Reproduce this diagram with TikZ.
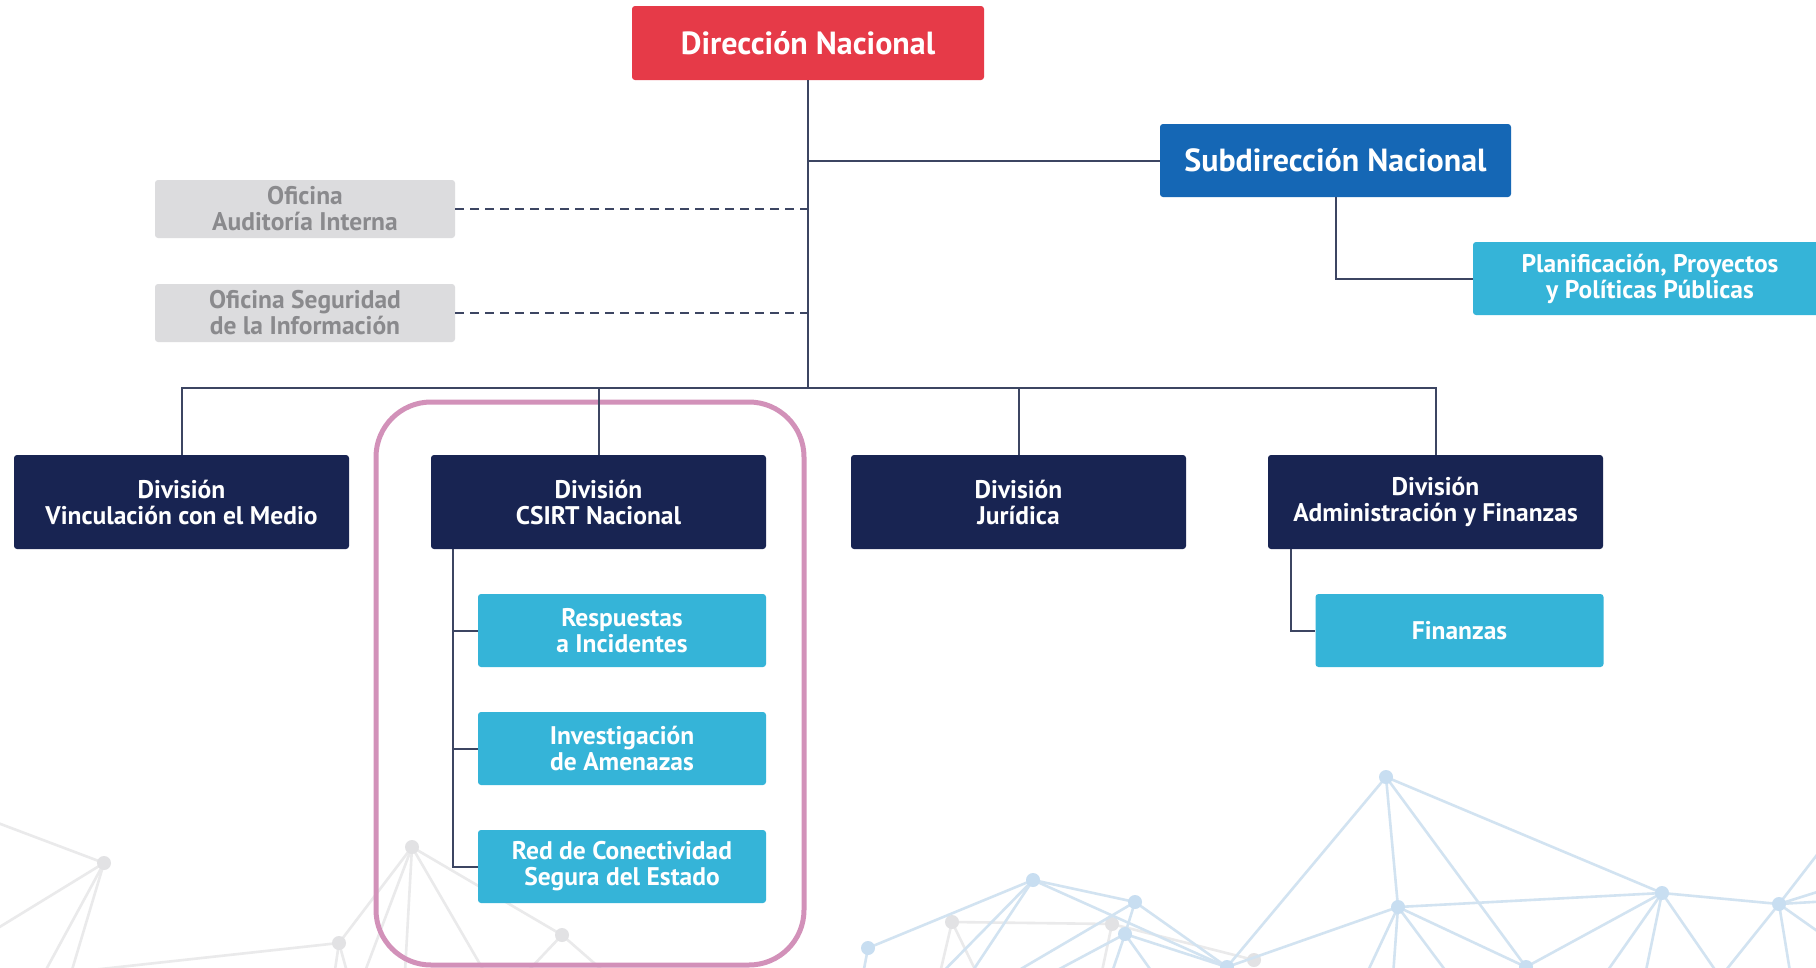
\documentclass[tikz,border=0pt]{standalone}
\usepackage{fontspec}
\setmainfont{PT Sans}
\definecolor{dirred}{RGB}{230,58,72}
\definecolor{subblue}{RGB}{21,103,181}
\definecolor{divnavy}{RGB}{24,36,82}
\definecolor{unitcyan}{RGB}{53,180,216}
\definecolor{officegray}{RGB}{220,220,222}
\definecolor{officetext}{RGB}{138,138,141}
\definecolor{linkcol}{RGB}{60,69,98}
\definecolor{framepink}{RGB}{210,145,185}
\definecolor{netgray}{RGB}{234,234,235}
\definecolor{netgraydot}{RGB}{226,226,228}
\definecolor{netblue}{RGB}{210,227,241}
\definecolor{netbluedot}{RGB}{200,222,241}
\begin{document}
\begin{tikzpicture}[x=1pt,y=-1pt,
  box/.style={rounded corners=3pt, align=center, inner sep=0pt, text=white,
    font=\bfseries\fontsize{25.5}{26}\selectfont},
  topbox/.style={box, minimum width=352pt, minimum height=74pt,
    font=\bfseries\fontsize{32}{34}\selectfont},
  divbox/.style={box, fill=divnavy, minimum width=335pt, minimum height=94pt},
  unitbox/.style={box, fill=unitcyan, minimum width=288pt, minimum height=73pt},
  officebox/.style={box, fill=officegray, text=officetext, minimum width=300pt, minimum height=58pt},
  link/.style={draw=linkcol, line width=2pt},
  dashlink/.style={draw=linkcol, line width=2pt, dash pattern=on 9pt off 6pt},
  netg/.style={draw=netgray, line width=2.6pt},
  netb/.style={draw=netblue, line width=2.6pt},
]
\useasboundingbox (0,0) rectangle (1816,967);
\fill[white] (0,0) rectangle (1816,967);

% ---- background network (grey part) ----
\coordinate (g1) at (104,863);
\coordinate (g2) at (412,847);
\coordinate (g3) at (339,943);
\coordinate (g4) at (562,935);
\coordinate (g5) at (952,922);
\coordinate (g6) at (1112,924);
\coordinate (g7) at (1254,960);
\draw[netg] (-10,820) -- (g1) -- (-20,939);
\draw[netg] (g1) -- (35,990);
\draw[netg] (g1) -- (66,990);
\draw[netg] (g2) -- (g3);
\draw[netg] (g2) -- (g4);
\draw[netg] (g2) -- (358,990);
\draw[netg] (g2) -- (404,990);
\draw[netg] (g2) -- (495,990);
\draw[netg] (g3) -- (0,980);
\draw[netg] (g3) -- (332,990);
\draw[netg] (g3) -- (352,990);
\draw[netg] (g4) -- (510,990);
\draw[netg] (g4) -- (625,990);
\draw[netg] (g5) -- (g6) -- (g7);
\draw[netg] (g5) -- (936,990);
\draw[netg] (g5) -- (985,990);
\draw[netg] (g6) -- (1098,990);
\foreach \p in {g1,g2,g3,g4,g5,g6,g7} \fill[netgraydot] (\p) circle (7pt);

% ---- background network (blue part) ----
\coordinate (b1) at (868,948);
\coordinate (b2) at (1033,880);
\coordinate (b3) at (1135,902);
\coordinate (b4) at (1125,934);
\coordinate (b5) at (1227,967);
\coordinate (b6) at (1386,777);
\coordinate (b7) at (1398,907);
\coordinate (b8) at (1526,967);
\coordinate (b9) at (1662,893);
\coordinate (b10) at (1779,904);
\draw[netb] (b1) -- (b2) -- (b3) -- (b4);
\draw[netb] (b1) -- (860,990);
\draw[netb] (b2) -- (925,990);
\draw[netb] (b2) -- (960,990);
\draw[netb] (b2) -- (b5);
\draw[netb] (b3) -- (985,990);
\draw[netb] (b3) -- (b5);
\draw[netb] (b4) -- (1020,990);
\draw[netb] (b4) -- (1106,990);
\draw[netb] (b4) -- (1165,990);
\draw[netb] (b4) -- (b5);
\draw[netb] (b5) -- (b6) -- (b7);
\draw[netb] (b6) -- (b8);
\draw[netb] (b6) -- (b9);
\draw[netb] (b7) -- (b9) -- (b10);
\draw[netb] (b7) -- (b5);
\draw[netb] (b7) -- (1359,990);
\draw[netb] (b7) -- (1392,990);
\draw[netb] (b7) -- (1460,990);
\draw[netb] (b7) -- (b8);
\draw[netb] (b9) -- (b8);
\draw[netb] (b9) -- (1594,990);
\draw[netb] (b9) -- (1642,990);
\draw[netb] (b9) -- (1729,990);
\draw[netb] (b10) -- (1710,990);
\draw[netb] (b10) -- (1793,990);
\draw[netb] (b10) -- (1830,940);
\draw[netb] (b10) -- (1830,888);
\draw[netb] (b10) -- (1830,901);
\draw[netb] (b10) -- (1830,838);
\foreach \p in {b1,b2,b3,b4,b5,b6,b7,b8,b9,b10} \fill[netbluedot] (\p) circle (7pt);

% ---- highlight frame around the CSIRT division ----
\draw[framepink, line width=5pt, rounded corners=55pt] (376,402) rectangle (804,965);

% ---- boxes ----
\node[topbox, fill=dirred] (dir) at (808,43) {Dirección Nacional};
\node[topbox, fill=subblue, minimum width=351pt, minimum height=73pt] (sub) at (1335.5,160.5) {Subdirección Nacional};
\node[unitbox, minimum width=354pt] (plan) at (1650,278.5) {Planificación, Proyectos\\y Políticas Públicas};

\node[officebox] (aud) at (305,209) {Oficina\\Auditoría Interna};
\node[officebox] (seg) at (305,313) {Oficina Seguridad\\de la Información};

\node[divbox] (vin) at (181.5,502) {División\\Vinculación con el Medio};
\node[divbox] (csirt) at (598.5,502) {División\\CSIRT Nacional};
\node[divbox] (jur) at (1018.5,502) {División\\Jurídica};
\node[divbox] (adm) at (1435.5,502) {División\\Administración y Finanzas};

\node[unitbox] (resp) at (622,630.5) {Respuestas\\a Incidentes};
\node[unitbox] (inv) at (622,748.5) {Investigación\\de Amenazas};
\node[unitbox] (red) at (622,866.5) {Red de Conectividad\\Segura del Estado};
\node[unitbox] (fin) at (1459.5,630.5) {Finanzas};

% ---- connectors ----
\coordinate (hub) at (808,388);
\draw[link] (dir.south) -- (hub);
\draw[link] (dir.south |- sub.west) -- (sub.west);
\draw[link] (sub.south) |- (plan.west);
\draw[dashlink] (aud.east) -- (aud.east -| dir.south);
\draw[dashlink] (seg.east) -- (seg.east -| dir.south);
\draw[link] (vin.north) -- (vin.north |- hub) -- (adm.north |- hub) -- (adm.north);
\draw[link] (csirt.north) -- (csirt.north |- hub);
\draw[link] (jur.north) -- (jur.north |- hub);

\coordinate (cspine) at ([xshift=22pt]csirt.south west);
\draw[link] (cspine) |- (red.west);
\draw[link] (resp.west -| cspine) -- (resp.west);
\draw[link] (inv.west -| cspine) -- (inv.west);
\draw[link] ([xshift=23pt]adm.south west) |- (fin.west);
\end{tikzpicture}
\end{document}
